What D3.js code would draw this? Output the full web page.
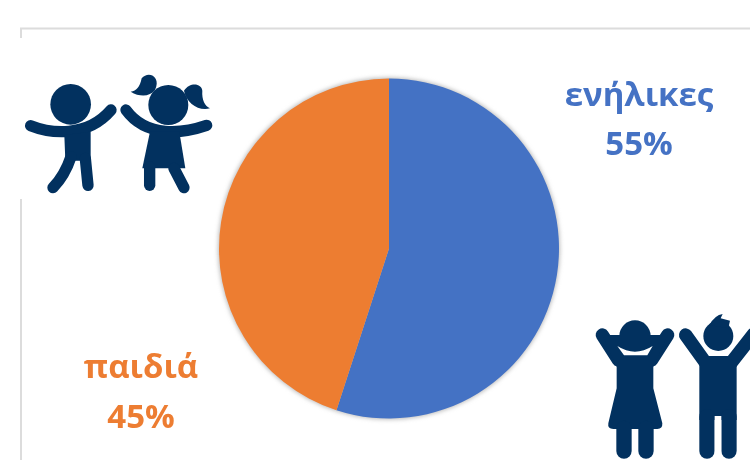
<!DOCTYPE html>
<html>
<head>
<meta charset="utf-8">
<script src="https://cdn.jsdelivr.net/npm/d3@7"></script>
<style>
  html, body { margin: 0; padding: 0; background: #fff; }
  svg { display: block; }
  .label { font-family: "Open Sans", sans-serif; font-weight: 700; text-anchor: middle; }
</style>
</head>
<body>
<svg id="chart" width="750" height="460"></svg>
<script>
const categories = ['ενήλικες', 'παιδιά'];
const shares = [55, 45];
const colors = ['#4472C4', '#ED7D31'];

const NAVY = '#02315F';
const svg = d3.select('#chart');

var defs = svg.append('defs');
defs.append('filter').attr('id', 'soft')
  .append('feGaussianBlur').attr('stdDeviation', 0.5);
defs.append('filter').attr('id', 'halo')
  .attr('x', '-10%').attr('y', '-10%').attr('width', '120%').attr('height', '120%')
  .append('feGaussianBlur').attr('stdDeviation', 2);

// frame, broken where the first picture sits on it
svg.append('path')
  .attr('d', 'M21 38V28.5H750M21 199V460')
  .attr('fill', 'none').attr('stroke', '#dcdcdc').attr('stroke-width', 2);

// pie
var cx = 389, cy = 248.5, radius = 170;
var pie = d3.pie().sort(null);
var arc = d3.arc().innerRadius(0).outerRadius(radius);
var chart = svg.append('g').attr('transform', 'translate(' + cx + ',' + cy + ')');

chart.append('circle').attr('r', radius + 1)
  .attr('fill', '#bbb').attr('filter', 'url(#halo)');

chart.selectAll('path.slice')
  .data(pie(shares))
  .join('path')
  .attr('class', 'slice')
  .attr('d', arc)
  .attr('fill', function (d, i) { return colors[i]; });

// labels
var labelSpots = [
  { x: 639, y1: 106, y2: 155 },
  { x: 141, y1: 378, y2: 428 }
];
categories.forEach(function (name, i) {
  var g = svg.append('g').attr('filter', 'url(#soft)').attr('fill', colors[i]);
  g.append('text').attr('class', 'label')
    .attr('x', labelSpots[i].x).attr('y', labelSpots[i].y1)
    .attr('font-size', 33).text(name);
  g.append('text').attr('class', 'label')
    .attr('x', labelSpots[i].x).attr('y', labelSpots[i].y2)
    .attr('font-size', 33).text(shares[i] + '%');
});

// helpers for the figures, which are drawn at 3x and scaled down
function limb(g, d, width) {
  g.append('path').attr('d', d)
    .attr('fill', 'none').attr('stroke', NAVY)
    .attr('stroke-width', width).attr('stroke-linecap', 'round');
}
function blob(g, d, fill) {
  g.append('path').attr('d', d).attr('fill', fill || NAVY);
}

// children, top left
var kids = svg.append('g').attr('transform', 'translate(0,20) scale(0.3333)');
kids.append('circle').attr('cx', 212).attr('cy', 253).attr('r', 61).attr('fill', NAVY);
limb(kids, 'M92 317C150 340 260 355 333 270', 34);
blob(kids, 'M193 345L272 335L272 430L240 422L196 422Z');
limb(kids, 'M213 410Q195 465 159 503', 34);
limb(kids, 'M256 415L264 496', 34);
kids.append('circle').attr('cx', 505).attr('cy', 255).attr('r', 60).attr('fill', NAVY);
blob(kids, 'M465 210C485 170 445 150 425 175C420 200 410 213 392 215C420 232 450 230 465 210Z');
blob(kids, 'M552 212C570 185 605 190 607 212C605 240 615 258 630 265C595 274 560 250 552 212Z');
limb(kids, 'M378 270C440 355 550 340 620 316', 34);
blob(kids, 'M450 335L538 335L556 445L427 445Z');
limb(kids, 'M449 440L449 496', 34);
limb(kids, 'M522 445L552 503', 34);

// adults, bottom right
var adults = svg.append('g').attr('transform', 'translate(580,300) scale(0.3333)');
adults.append('circle').attr('cx', 165).attr('cy', 108).attr('r', 47).attr('fill', NAVY);
limb(adults, 'M67 105L115 180', 40);
limb(adults, 'M263 105L215 180', 40);
blob(adults, 'M67 105L263 105L220 200L220 265L247 370Q248 387 232 387L100 387Q82 387 85 370L110 265L110 200Z');
blob(adults, 'M112 138Q165 172 218 138L202 166L132 166Z', '#fff');
limb(adults, 'M132 385L132 453', 46);
limb(adults, 'M198 385L198 453', 46);

adults.append('circle').attr('cx', 415).attr('cy', 108).attr('r', 45).attr('fill', NAVY);
blob(adults, 'M388 75Q405 45 428 42L422 55L450 62L445 85Z');
limb(adults, 'M317 105L378 190', 40);
limb(adults, 'M520 103L452 190', 40);
blob(adults, 'M385 168L445 168L470 195L470 360L358 360L358 195Z');
limb(adults, 'M381 350L381 453', 46);
limb(adults, 'M447 350L447 453', 46);
blob(adults, 'M404 348H424V480H404Z', '#fff');
</script>
</body>
</html>
